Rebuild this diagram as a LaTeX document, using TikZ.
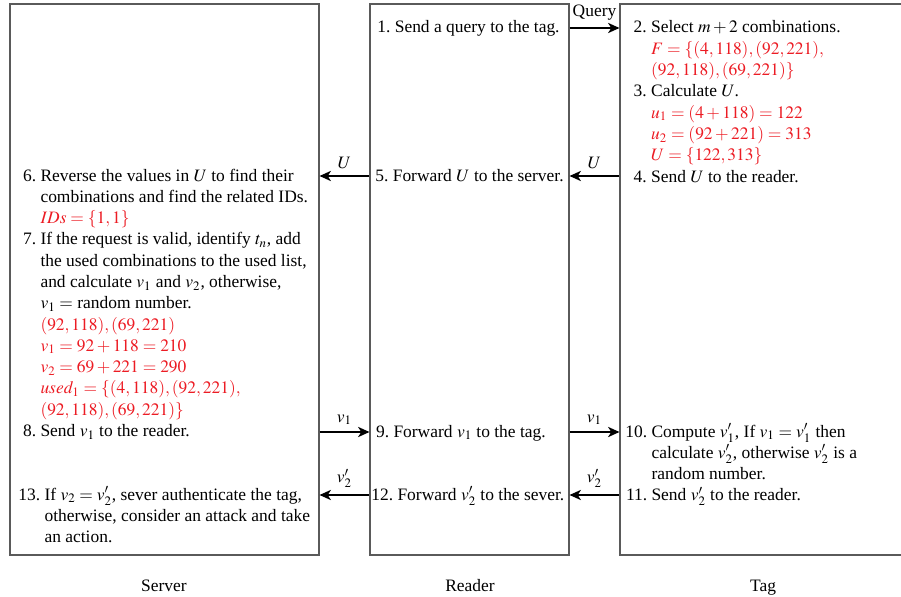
\documentclass[tikz,border=0pt]{standalone}
\usepackage{mathptmx}
\usepackage{fontspec}
\setmainfont{Liberation Serif}
\usepackage{xcolor}
\usetikzlibrary{arrows.meta, positioning, fit}
\definecolor{valred}{RGB}{236, 28, 36}
\definecolor{framegray}{RGB}{90, 90, 90}
\newcommand{\redval}[1]{\textcolor{valred}{#1}}

\begin{document}
\begin{tikzpicture}[x=0.573pt, y=-0.573pt,
  font=\fontsize{10}{12.2}\selectfont,
  panel/.style={draw=framegray, line width=0.6pt, inner sep=0pt},
  stepblk/.style={anchor=base west, inner sep=0pt},
  msg/.style={-{Stealth[length=6.5pt, width=5.8pt, inset=1.8pt]}, line width=1.7pt},
  msglbl/.style={above, inner sep=3.3pt}]

  \useasboundingbox (0,0) rectangle (901,596);
  \clip (0,0) rectangle (901,596);

  % The three parties
  \node[panel, fit={(10,4) (319,555)}] (server) {};
  \node[panel, fit={(370,4) (569,555)}] (reader) {};
  \node[panel, fit={(620,4) (906,555)}] (tag) {};

  \node[anchor=base] (servername) at (164,591) {Server};
  \node[anchor=base] (readername) at (470,591) {Reader};
  \node[anchor=base] (tagname) at (763,591) {Tag};

  % Server steps
  \node[stepblk] (srv6) at (22.7,181) {\begin{tabular}[t]{@{}r@{\hspace{2.5pt}}l@{}}
    6. & Reverse the values in $U$ to find their\\
       & combinations and find the related IDs.\\
       & \redval{$IDs = \{1,1\}$}\\
    7. & If the request is valid, identify $t_n$, add\\
       & the used combinations to the used list,\\
       & and calculate $v_1$ and $v_2$, otherwise,\\
       & $v_1 =$ random number.\\
       & \redval{$(92,118),(69,221)$}\\
       & \redval{$v_1 = 92+118 = 210$}\\
       & \redval{$v_2 = 69+221 = 290$}\\
       & \redval{$used_1 = \{(4,118),(92,221),$}\\
       & \redval{$(92,118),(69,221)\}$}\\
    8. & Send $v_1$ to the reader.
  \end{tabular}};
  \node[stepblk] (srv13) at (18,500) {\begin{tabular}[t]{@{}r@{\hspace{2.5pt}}l@{}}
    13. & If $v_2 = v'_2$, sever authenticate the tag,\\
        & otherwise, consider an attack and take\\
        & an action.
  \end{tabular}};

  % Reader steps
  \node[stepblk] (rdr1) at (377,33) {1.\hspace{2.5pt}Send a query to the tag.};
  \node[stepblk] (rdr5) at (375,181) {5.\hspace{2.5pt}Forward $U$ to the server.};
  \node[stepblk] (rdr9) at (375.7,437) {9.\hspace{2.5pt}Forward $v_1$ to the tag.};
  \node[stepblk] (rdr12) at (371,500) {12.\hspace{2.5pt}Forward $v'_2$ to the sever.};

  % Tag steps
  \node[stepblk] (tag2) at (633.3,33) {\begin{tabular}[t]{@{}r@{\hspace{2.5pt}}l@{}}
    2. & Select $m+2$ combinations.\\
       & \redval{$F=\{(4,118),(92,221),$}\\
       & \redval{$(92,118),(69,221)\}$}\\
    3. & Calculate $U$.\\
       & \redval{$u_1=(4+118)=122$}\\
       & \redval{$u_2=(92+221)=313$}\\
       & \redval{$U=\{122,313\}$}\\
    4. & Send $U$ to the reader.
  \end{tabular}};
  \node[stepblk] (tag10) at (625,437) {\begin{tabular}[t]{@{}r@{\hspace{2.5pt}}l@{}}
    10. & Compute $v'_1$, If $v_1 = v'_1$ then\\
        & calculate $v'_2$, otherwise $v'_2$ is a\\
        & random number.\\
    11. & Send $v'_2$ to the reader.
  \end{tabular}};

  % Messages
  \coordinate (qrow) at (0,28);
  \coordinate (urow) at (0,176);
  \coordinate (vonerow) at (0,432);
  \coordinate (vtworow) at (0,495);

  \draw[msg] (reader.east |- qrow) -- node[msglbl] (querylbl) {Query} (tag.west |- qrow);
  \draw[msg] (tag.west |- urow) -- node[msglbl] (utaglbl) {$U$} (reader.east |- urow);
  \draw[msg] (reader.west |- urow) -- node[msglbl] (urdrlbl) {$U$} (server.east |- urow);
  \draw[msg] (server.east |- vonerow) -- node[msglbl] (vsrvlbl) {$v_1$} (reader.west |- vonerow);
  \draw[msg] (reader.east |- vonerow) -- node[msglbl] (vrdrlbl) {$v_1$} (tag.west |- vonerow);
  \draw[msg] (tag.west |- vtworow) -- node[msglbl] (wtaglbl) {$v'_2$} (reader.east |- vtworow);
  \draw[msg] (reader.west |- vtworow) -- node[msglbl] (wrdrlbl) {$v'_2$} (server.east |- vtworow);
\end{tikzpicture}
\end{document}
